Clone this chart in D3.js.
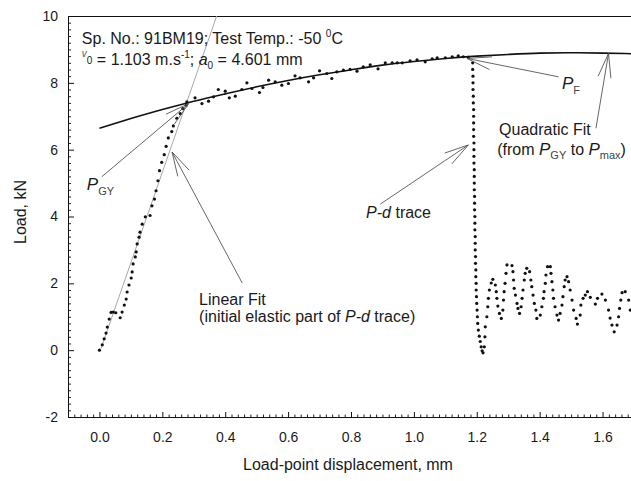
<!DOCTYPE html>
<html><head><meta charset="utf-8">
<script src="https://cdn.jsdelivr.net/npm/d3@7"></script>
<style>
body{margin:0;background:#fff}
svg{display:block}
text{font-family:"Liberation Sans",Arial,Helvetica,sans-serif;fill:#1a1a1a}
</style>
</head><body>
<svg id="chart" width="631" height="481"></svg>
<script>
// ---------- data ----------
const xTickValues = [0, 0.2, 0.4, 0.6, 0.8, 1.0, 1.2, 1.4, 1.6];
const xTickLabels = ["0.0","0.2","0.4","0.6","0.8","1.0","1.2","1.4","1.6"];
const yTickValues = [-2, 0, 2, 4, 6, 8, 10];
const yTickLabels = ["-2","0","2","4","6","8","10"];

// P-d trace: initial elastic rise
const riseSegment = [
 [0.000,0.00],[0.009,0.16],[0.015,0.34],[0.021,0.51],[0.025,0.69],[0.031,0.93],
 [0.037,1.13],[0.044,1.14],[0.052,1.12],[0.066,0.97],[0.072,1.14],[0.079,1.35],
 [0.085,1.53],[0.088,1.74],[0.094,1.95],[0.101,2.16],[0.104,2.34],[0.107,2.58],
 [0.114,2.79],[0.117,2.94],[0.120,3.18],[0.126,3.38],[0.129,3.53],[0.136,3.77],
 [0.146,3.99],[0.161,4.03],[0.167,4.32],[0.175,4.52],[0.180,4.77],[0.186,5.07],
 [0.191,5.37],[0.198,5.62],[0.206,5.85],[0.212,6.10],[0.219,6.35],[0.230,6.54],
 [0.235,6.71],[0.246,6.94],[0.257,7.08],[0.265,7.23],[0.276,7.33]
];
// P-d trace: plastic part up to fracture
const plasticSegment = [
 [0.278,7.43],[0.304,7.55],[0.326,7.38],[0.347,7.45],[0.363,7.58],[0.378,7.80],
 [0.400,7.75],[0.413,7.55],[0.432,7.60],[0.453,7.80],[0.469,8.00],[0.485,7.83],
 [0.509,7.71],[0.520,7.86],[0.538,8.08],[0.559,8.03],[0.580,7.93],[0.601,7.98],
 [0.622,8.21],[0.638,8.15],[0.665,8.03],[0.681,8.15],[0.700,8.36],[0.723,8.28],
 [0.739,8.13],[0.755,8.33],[0.776,8.38],[0.797,8.40],[0.819,8.35],[0.839,8.48],
 [0.861,8.54],[0.886,8.42],[0.909,8.60],[0.931,8.60],[0.947,8.60],[0.963,8.60],
 [0.988,8.66],[1.010,8.69],[1.036,8.63],[1.058,8.72],[1.074,8.75],[1.100,8.75],
 [1.122,8.78],[1.141,8.81],[1.157,8.78],[1.173,8.76]
];
// P-d trace: fracture drop
const dropSegment = [
 [1.187,8.60],[1.187,8.40],[1.188,8.20],[1.188,8.00],[1.188,7.80],[1.189,7.60],
 [1.189,7.40],[1.190,7.20],[1.190,7.00],[1.190,6.80],[1.190,6.60],[1.190,6.40],
 [1.191,6.20],[1.191,6.00],[1.191,5.80],[1.191,5.60],[1.192,5.40],[1.192,5.20],
 [1.192,5.00],[1.192,4.80],[1.193,4.60],[1.193,4.40],[1.193,4.20],[1.194,4.00],
 [1.194,3.80],[1.194,3.60],[1.195,3.40],[1.195,3.20],[1.195,3.00],[1.196,2.80],
 [1.196,2.60],[1.197,2.40],[1.197,2.20],[1.198,2.00],[1.198,1.80],[1.199,1.60],
 [1.200,1.40],[1.201,1.20],[1.202,1.00],[1.203,0.80],[1.205,0.60],[1.208,0.42],
 [1.211,0.26],[1.214,0.10],[1.217,-0.02],[1.220,-0.08]
];
// P-d trace: post-fracture oscillations
const oscillationSegment = [
 [1.224,0.10],[1.226,0.40],[1.227,0.70],[1.232,1.00],[1.235,1.30],[1.237,1.55],
 [1.240,1.80],[1.246,2.01],[1.251,2.12],[1.259,1.95],[1.262,1.75],[1.264,1.55],
 [1.267,1.32],[1.272,1.10],[1.278,0.95],[1.283,1.20],[1.285,1.50],[1.287,1.75],
 [1.290,2.00],[1.293,2.30],[1.296,2.55],[1.312,2.53],[1.315,2.35],[1.317,2.10],
 [1.319,1.85],[1.323,1.65],[1.328,1.40],[1.331,1.25],[1.336,1.10],[1.341,1.30],
 [1.344,1.55],[1.347,1.80],[1.351,2.10],[1.354,2.30],[1.359,2.45],[1.368,2.35],
 [1.372,2.10],[1.375,1.90],[1.379,1.65],[1.383,1.40],[1.388,1.20],[1.391,0.95],
 [1.402,1.05],[1.407,1.30],[1.412,1.55],[1.414,1.75],[1.418,2.00],[1.420,2.25],
 [1.425,2.50],[1.434,2.50],[1.436,2.30],[1.439,2.05],[1.442,1.80],[1.444,1.55],
 [1.449,1.30],[1.455,1.05],[1.460,0.90],[1.465,1.10],[1.471,1.35],[1.474,1.60],
 [1.478,1.90],[1.481,2.10],[1.487,2.20],[1.492,2.05],[1.497,1.80],[1.503,1.50],
 [1.508,1.20],[1.516,0.95],[1.520,0.78],[1.529,1.05],[1.531,1.35],[1.538,1.55],
 [1.545,1.65],[1.552,1.75],[1.561,1.58],[1.577,1.38],[1.584,1.55],[1.598,1.68],
 [1.609,1.50],[1.619,1.20],[1.624,0.96],[1.630,0.75],[1.637,0.55],[1.646,0.75],
 [1.651,1.00],[1.654,1.25],[1.658,1.50],[1.662,1.72],[1.672,1.75],[1.683,1.50],
 [1.688,1.20]
];
const pdTrace = riseSegment.concat(plasticSegment, dropSegment, oscillationSegment);

// Quadratic fit curve
const quadFitX = [0,0.1,0.2,0.3,0.4,0.5,0.6,0.7,0.8,0.9,1.0,1.1,1.2,1.3,1.4,1.5,1.6,1.7];
const quadFitY = [6.64,6.93,7.20,7.45,7.67,7.88,8.07,8.24,8.39,8.53,8.64,8.73,8.80,8.85,8.89,8.90,8.89,8.87];
// Linear fit (end points of drawn line)
const linFitX = [0.005, 0.373];
const linFitY = [0.05, 10.0];

// ---------- layout ----------
const svg = d3.select("#chart");
const pL = 68, pR = 634, pT = 16, pB = 417;
const x = d3.scaleLinear().domain([-0.1, 1.7]).range([pL, pR]);
const y = d3.scaleLinear().domain([-2, 10]).range([pB, pT]);

svg.append("defs").append("clipPath").attr("id","plot")
  .append("rect").attr("x",pL).attr("y",pT).attr("width",pR-pL).attr("height",pB-pT);

// minor ticks
const xMinor = d3.range(-0.1, 1.7001, 0.02).filter(v => !xTickValues.some(t => Math.abs(t - v) < 1e-6));
const yMinor = d3.range(-2, 10.0001, 0.2).filter(v => !yTickValues.some(t => Math.abs(t - v) < 1e-6));

svg.append("g").attr("transform",`translate(0,${pB})`)
  .call(d3.axisBottom(x).tickValues(xMinor).tickSizeInner(-2.5).tickSizeOuter(0).tickFormat(""))
  .call(g => g.select(".domain").remove())
  .call(g => g.selectAll("line").attr("stroke","#222"));
svg.append("g").attr("transform",`translate(${pL},0)`)
  .call(d3.axisLeft(y).tickValues(yMinor).tickSizeInner(-3).tickSizeOuter(0).tickFormat(""))
  .call(g => g.select(".domain").remove())
  .call(g => g.selectAll("line").attr("stroke","#222"));

// major axes
const xAxis = svg.append("g").attr("transform",`translate(0,${pB})`)
  .call(d3.axisBottom(x).tickValues(xTickValues).tickSizeInner(-5).tickSizeOuter(0)
        .tickPadding(15).tickFormat((d,i) => xTickLabels[i]));
xAxis.select(".domain").attr("stroke","#111").attr("d",`M${pL},0.5H631`);
xAxis.selectAll("line").attr("stroke","#111");
xAxis.selectAll("text").attr("font-size",14).attr("fill","#222").style("font-family",'"Liberation Sans",Arial,sans-serif');

const yAxis = svg.append("g").attr("transform",`translate(${pL},0)`)
  .call(d3.axisLeft(y).tickValues(yTickValues).tickSizeInner(-6).tickSizeOuter(0)
        .tickPadding(10).tickFormat((d,i) => yTickLabels[i]));
yAxis.select(".domain").attr("stroke","#111");
yAxis.selectAll("line").attr("stroke","#111");
yAxis.selectAll("text").attr("font-size",14).attr("fill","#222").style("font-family",'"Liberation Sans",Arial,sans-serif');

// top frame line
svg.append("line").attr("x1",pL).attr("x2",631).attr("y1",pT+0.5).attr("y2",pT+0.5)
  .attr("stroke","#111");

// axis titles
svg.append("text").attr("x",348).attr("y",470).attr("text-anchor","middle")
  .attr("font-size",16).text("Load-point displacement, mm");
svg.append("text").attr("transform","translate(26,212) rotate(-90)").attr("text-anchor","middle")
  .attr("font-size",16).text("Load, kN");

const plot = svg.append("g").attr("clip-path","url(#plot)");

// linear fit
plot.append("path")
  .datum(linFitX.map((v,i)=>[v,linFitY[i]]))
  .attr("d", d3.line().x(d=>x(d[0])).y(d=>y(d[1])))
  .attr("fill","none").attr("stroke","#a8a8a8").attr("stroke-width",1);

// quadratic fit
plot.append("path")
  .datum(quadFitX.map((v,i)=>[v,quadFitY[i]]))
  .attr("d", d3.line().x(d=>x(d[0])).y(d=>y(d[1])).curve(d3.curveNatural))
  .attr("fill","none").attr("stroke","#111").attr("stroke-width",1.6);

// P-d trace dots
plot.selectAll("circle.pd").data(pdTrace).join("circle").attr("class","pd")
  .attr("cx",d=>x(d[0])).attr("cy",d=>y(d[1])).attr("r",1.6).attr("fill","#111");

// ---------- annotations ----------
function arrow(from, tip){
  const x0=x(from[0]), y0=y(from[1]), x1=x(tip[0]), y1=y(tip[1]);
  const g = svg.append("g").attr("stroke","#555").attr("stroke-width",0.9).attr("fill","none");
  g.append("line").attr("x1",x0).attr("y1",y0).attr("x2",x1).attr("y2",y1);
  const a = Math.atan2(y0-y1, x0-x1), L = 25, s = 15*Math.PI/180;
  [a-s, a+s].forEach(b => g.append("line").attr("x1",x1).attr("y1",y1)
    .attr("x2",x1+L*Math.cos(b)).attr("y2",y1+L*Math.sin(b)));
}
arrow([0.0076,5.19],[0.284,7.38]);   // P_GY
arrow([0.454,2.01],[0.231,5.93]);    // linear fit
arrow([0.893,4.37],[1.173,6.14]);    // P-d trace
arrow([1.460,8.18],[1.169,8.73]);    // P_F
arrow([1.579,6.64],[1.619,8.88]);    // quadratic fit

function label(px, py, parts){
  const t = svg.append("text").attr("x",x(px)).attr("y",y(py)).attr("font-size",16);
  parts.forEach(p => {
    const s = t.append("tspan").text(p.t);
    if(p.i) s.attr("font-style","italic");
    if(p.s) s.attr("font-size",p.s);
    if(p.dy) s.attr("dy",p.dy);
    if(p.f) s.attr("fill",p.f);
  });
  return t;
}
// header
label(-0.056, 9.16, [{t:"Sp. No.: 91BM19; Test Temp.: -50 "},{t:"0",s:10,dy:-7},{t:"C",dy:7}]);
label(-0.056, 8.53, [{t:"v",i:1,s:10,dy:-8,f:"#555"},{t:"0",s:10,dy:7},{t:" = 1.103 m.s",dy:1},
  {t:"-1",s:10,dy:-7},{t:"; ",dy:7},{t:"a",i:1},{t:"0",s:10,dy:4},{t:" = 4.601 mm",dy:-4}]);
// P_GY
label(-0.040, 4.79, [{t:"P",i:1,s:17},{t:"GY",s:11,dy:5,f:"#444"}]);
// Linear fit
label(0.317, 1.35, [{t:"Linear Fit"}]);
label(0.317, 0.84, [{t:"(initial elastic part of "},{t:"P-d",i:1},{t:" trace)"}]);
// P-d trace
label(0.848, 3.95, [{t:"P-d",i:1},{t:" trace"}]);
// P_F
label(1.471, 7.83, [{t:"P",i:1,s:17},{t:"F",s:11,dy:5,f:"#444"}]);
// Quadratic fit
label(1.271, 6.44, [{t:"Quadratic Fit"}]);
label(1.265, 5.84, [{t:"(from "},{t:"P",i:1,s:17},{t:"GY",s:11,dy:4,f:"#444"},{t:" to ",dy:-4},
  {t:"P",i:1,s:17},{t:"max",s:11,dy:4,f:"#444"},{t:")",dy:-4}]);
</script>
</body></html>
